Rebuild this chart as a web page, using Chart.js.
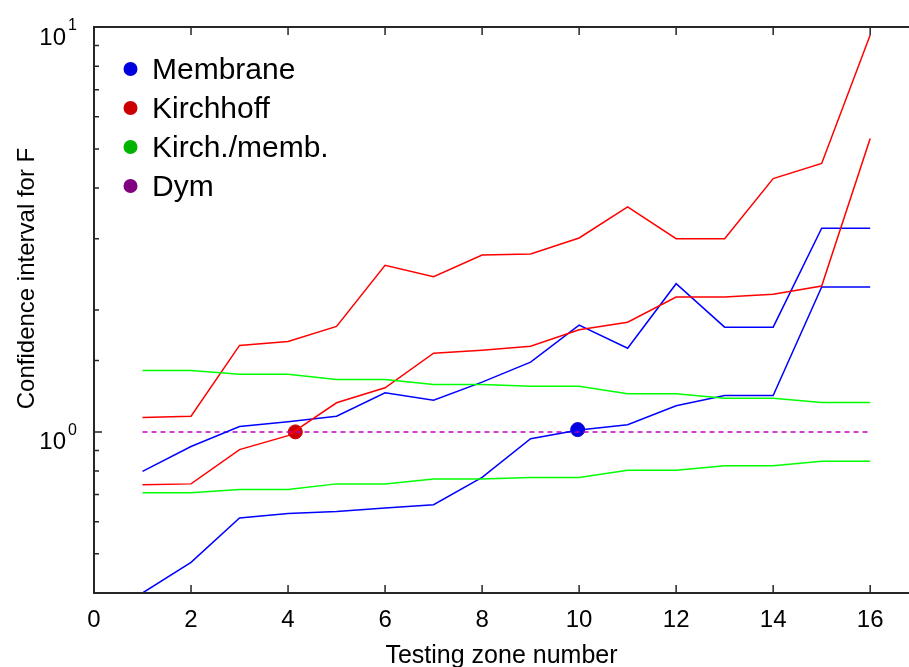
<!DOCTYPE html>
<html>
<head>
<meta charset="utf-8">
<script src="https://cdn.jsdelivr.net/npm/chart.js@4.4.1/dist/chart.umd.min.js"></script>
<style>
  html, body { margin: 0; padding: 0; background: #fff; }
  canvas { display: block; }
</style>
</head>
<body>
<canvas id="ciChart" width="909" height="667"></canvas>
<script>
// testing zones along the x axis
const zones = [1, 2, 3, 4, 5, 6, 7, 8, 9, 10, 11, 12, 13, 14, 15, 16];

// confidence interval bounds for F, per zone
const membraneUpper = [0.799, 0.920, 1.031, 1.060, 1.093, 1.249, 1.197, 1.327, 1.487, 1.835, 1.609, 2.323, 1.814, 1.814, 3.184, 3.184];
const membraneLower = [0.400, 0.476, 0.613, 0.629, 0.636, 0.649, 0.661, 0.772, 0.962, 1.011, 1.042, 1.160, 1.230, 1.230, 2.279, 2.279];
const kirchhoffUpper = [1.085, 1.093, 1.635, 1.672, 1.822, 2.578, 2.418, 2.734, 2.750, 3.012, 3.594, 3.001, 3.001, 4.224, 4.601, 9.555];
const kirchhoffLower = [0.740, 0.744, 0.904, 0.979, 1.180, 1.285, 1.564, 1.591, 1.628, 1.788, 1.866, 2.152, 2.152, 2.186, 2.292, 5.304];
const ratioUpper = [1.418, 1.418, 1.388, 1.388, 1.347, 1.347, 1.309, 1.309, 1.297, 1.297, 1.242, 1.242, 1.211, 1.211, 1.182, 1.182];
const ratioLower = [0.707, 0.707, 0.721, 0.721, 0.744, 0.744, 0.765, 0.765, 0.771, 0.771, 0.804, 0.804, 0.825, 0.825, 0.846, 0.846];
const dymLevel = [1, 1, 1, 1, 1, 1, 1, 1, 1, 1, 1, 1, 1, 1, 1, 1];

// zone where each lower bound reaches F = 1
const kirchhoffCross = { zone: 4.15, value: 1.0 };
const membraneCross = { zone: 9.97, value: 1.013 };

// legend entries
const legendLabels = ['Membrane', 'Kirchhoff', 'Kirch./memb.', 'Dym'];
const legendColors = ['#0000e0', '#cc0000', '#00b400', '#800080'];

const FONT = "'Liberation Sans', Arial, Helvetica, sans-serif";

function pts(values) {
    return zones.map((z, i) => ({ x: z, y: values[i] }));
}

function line(values, color, dash) {
    return {
        data: pts(values),
        borderColor: color,
        backgroundColor: color,
        borderWidth: 1.5,
        borderDash: dash || [],
        pointRadius: 0,
        tension: 0,
        fill: false
    };
}

function marker(p, color) {
    return {
        type: 'scatter',
        data: [{ x: p.zone, y: p.value }],
        backgroundColor: color,
        borderColor: color,
        pointRadius: 7,
        pointHoverRadius: 7,
        showLine: false
    };
}

// axes box, inward ticks, power-of-ten labels, y title and legend
const frame = {
    id: 'frame',
    afterDraw(chart) {
        const { ctx, chartArea: a, scales: { x, y } } = chart;
        ctx.save();
        ctx.strokeStyle = '#262626';
        ctx.lineWidth = 2;
        ctx.beginPath();
        ctx.moveTo(a.right + 2, a.top);
        ctx.lineTo(a.left, a.top);
        ctx.lineTo(a.left, a.bottom);
        ctx.lineTo(a.right + 2, a.bottom);
        ctx.stroke();

        ctx.lineWidth = 1.5;
        ctx.beginPath();
        x.ticks.forEach(t => {
            const px = x.getPixelForValue(t.value);
            ctx.moveTo(px, a.bottom);
            ctx.lineTo(px, a.bottom - 8);
            ctx.moveTo(px, a.top);
            ctx.lineTo(px, a.top + 8);
        });
        const majors = [];
        y.ticks.forEach(t => {
            const py = y.getPixelForValue(t.value);
            const exp = Math.log10(t.value);
            const major = Math.abs(exp - Math.round(exp)) < 1e-6;
            if (major) majors.push({ py, exp: Math.round(exp) });
            ctx.moveTo(a.left, py);
            ctx.lineTo(a.left + (major ? 8 : 5), py);
        });
        ctx.stroke();

        ctx.fillStyle = '#000';
        ctx.textBaseline = 'alphabetic';
        majors.forEach(m => {
            ctx.font = '24px ' + FONT;
            ctx.textAlign = 'right';
            ctx.fillText('10', 66, m.py + 17.5);
            ctx.font = '16px ' + FONT;
            ctx.textAlign = 'left';
            ctx.fillText(String(m.exp), 68, m.py + 3);
        });

        ctx.save();
        ctx.translate(33.5, 278.5);
        ctx.rotate(-Math.PI / 2);
        ctx.font = '24px ' + FONT;
        ctx.textAlign = 'center';
        ctx.fillText('Confidence interval for F', 0, 0);
        ctx.restore();

        ctx.font = '30px ' + FONT;
        ctx.textAlign = 'left';
        legendLabels.forEach((label, i) => {
            const cy = a.top + 42 + i * 39;
            ctx.fillStyle = legendColors[i];
            ctx.beginPath();
            ctx.arc(a.left + 36.5, cy, 7, 0, Math.PI * 2);
            ctx.fill();
            ctx.fillStyle = '#000';
            ctx.fillText(label, a.left + 58, cy + 9.5);
        });
        ctx.restore();
    }
};

new Chart(document.getElementById('ciChart'), {
    type: 'line',
    data: {
        datasets: [
            line(ratioUpper, '#00ff00'),
            line(ratioLower, '#00ff00'),
            line(kirchhoffUpper, '#ff0000'),
            line(kirchhoffLower, '#ff0000'),
            line(membraneUpper, '#0000ff'),
            line(membraneLower, '#0000ff'),
            line(dymLevel, '#bf00bf', [5, 4]),
            marker(kirchhoffCross, '#cc0000'),
            marker(membraneCross, '#0000e0')
        ]
    },
    plugins: [frame],
    options: {
        responsive: false,
        animation: false,
        devicePixelRatio: 1,
        layout: {
            autoPadding: false,
            padding: { top: 27, left: 0, right: 0, bottom: 0 }
        },
        plugins: {
            legend: { display: false },
            tooltip: { enabled: false }
        },
        scales: {
            x: {
                type: 'linear',
                min: 0,
                max: 16.8,
                grid: { display: false, drawTicks: false },
                border: { display: false },
                ticks: {
                    stepSize: 2,
                    includeBounds: false,
                    padding: 13,
                    color: '#000',
                    font: { size: 24, family: FONT },
                    maxRotation: 0,
                    callback: v => (v % 2 === 0 ? String(v) : '')
                },
                title: {
                    display: true,
                    text: 'Testing zone number',
                    color: '#000',
                    font: { size: 25, family: FONT },
                    padding: { top: 0, bottom: -4 }
                },
                afterFit: s => {
                    s.height = 74;
                    s.paddingLeft = 0;
                    s.paddingRight = 0;
                }
            },
            y: {
                type: 'logarithmic',
                min: 0.4,
                max: 10,
                grid: { display: false, drawTicks: false },
                border: { display: false },
                ticks: { display: false },
                afterFit: s => {
                    s.width = 94;
                    s.paddingTop = 0;
                    s.paddingBottom = 0;
                }
            }
        }
    }
});
</script>
</body>
</html>
